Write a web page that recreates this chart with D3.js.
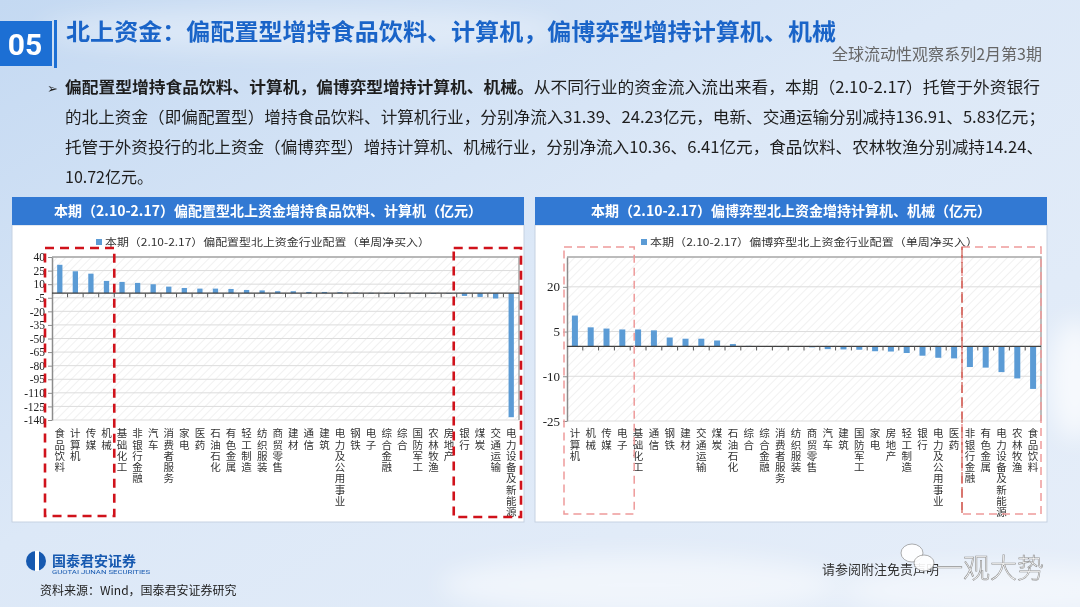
<!DOCTYPE html>
<html>
<head>
<meta charset="UTF-8">
<title>北上资金行业配置</title>
<script src="https://cdn.jsdelivr.net/npm/d3@7"></script>
<style>
  body { margin: 0; overflow: hidden; }
  svg { display: block; }
  .vlabel { writing-mode: vertical-rl; text-orientation: upright; }
</style>
</head>
<body>
<script>
var W = 1080, H = 607;
var cjk = '"Noto Sans CJK SC", "Noto Sans", sans-serif';
var serif = '"Liberation Serif", "DejaVu Serif", serif';

// 偏配置型（托管于外资银行）单周净买入，亿元
var leftCategories = ["食品饮料", "计算机", "传媒", "机械", "基础化工", "非银行金融", "汽车", "消费者服务",
    "家电", "医药", "石油石化", "有色金属", "轻工制造", "纺织服装", "商贸零售", "建材", "通信", "建筑",
    "电力及公用事业", "钢铁", "电子", "综合金融", "综合", "国防军工", "农林牧渔", "房地产", "银行", "煤炭",
    "交通运输", "电力设备及新能源"];
var leftValues = [31.39, 24.23, 21.6, 13.6, 12.5, 11.4, 9.9, 7.3, 5.8, 5.1, 5.1, 4.7, 3.6, 3.1, 2.2, 2.2,
    1.4, 1.4, 1.1, 0.7, 0.4, 0.2, 0.1, -0.1, -0.3, -0.7, -3.0, -4.1, -5.83, -136.91];
var leftTicks = [40, 25, 10, -5, -20, -35, -50, -65, -80, -95, -110, -125, -140];
var leftDomain = [-140, 40];

// 偏博弈型（托管于外资投行）单周净买入，亿元
var rightCategories = ["计算机", "机械", "传媒", "电子", "基础化工", "通信", "钢铁", "建材", "交通运输", "煤炭",
    "石油石化", "综合", "综合金融", "消费者服务", "纺织服装", "商贸零售", "汽车", "建筑", "国防军工", "家电",
    "房地产", "轻工制造", "银行", "电力及公用事业", "医药", "非银行金融", "有色金属", "电力设备及新能源",
    "农林牧渔", "食品饮料"];
var rightValues = [10.36, 6.41, 6.0, 5.7, 5.7, 5.4, 3.0, 2.6, 2.6, 2.0, 0.8, 0.2, 0.05, -0.05, -0.1, -0.3,
    -0.9, -1.0, -1.1, -1.6, -1.7, -2.2, -3.1, -3.8, -4.0, -6.9, -7.1, -8.6, -10.72, -14.24];
var rightTicks = [20, 5, -10, -25];
var rightDomain = [-25, 30];

var svg = d3.select("body").append("svg")
        .attr("width", W)
        .attr("height", H);

var defs = svg.append("defs");

var bg = defs.append("linearGradient").attr("id", "bg")
        .attr("x1", 0).attr("y1", 0).attr("x2", 1).attr("y2", 1);
bg.append("stop").attr("offset", "0%").attr("stop-color", "#c4d9f2");
bg.append("stop").attr("offset", "45%").attr("stop-color", "#dce8f7");
bg.append("stop").attr("offset", "100%").attr("stop-color", "#e6eef9");

var hatch = defs.append("pattern").attr("id", "hatch")
        .attr("width", 6).attr("height", 6)
        .attr("patternUnits", "userSpaceOnUse")
        .attr("patternTransform", "rotate(45)");
hatch.append("rect").attr("width", 6).attr("height", 6).attr("fill", "#ffffff");
hatch.append("line").attr("x1", 0).attr("y1", 0).attr("x2", 0).attr("y2", 6)
        .attr("stroke", "#ebebeb").attr("stroke-width", 1.4);

defs.append("filter").attr("id", "blur")
        .append("feGaussianBlur").attr("stdDeviation", 12);

// slide background
svg.append("rect").attr("width", W).attr("height", H).attr("fill", "url(#bg)");
var clouds = svg.append("g").attr("filter", "url(#blur)").attr("fill", "#ffffff");
clouds.append("ellipse").attr("cx", 300).attr("cy", 30).attr("rx", 260).attr("ry", 22).attr("opacity", 0.35);
clouds.append("ellipse").attr("cx", 640).attr("cy", 585).attr("rx", 200).attr("ry", 30).attr("opacity", 0.5);
clouds.append("ellipse").attr("cx", 1000).attr("cy", 590).attr("rx", 160).attr("ry", 25).attr("opacity", 0.5);
clouds.append("ellipse").attr("cx", 1075).attr("cy", 380).attr("rx", 25).attr("ry", 60).attr("opacity", 0.7);

// header
svg.append("rect").attr("x", 0).attr("y", 21).attr("width", 52).attr("height", 45).attr("fill", "#1c6fd4");
svg.append("rect").attr("x", 54).attr("y", 20).attr("width", 3).attr("height", 48).attr("fill", "#1c6fd4");
svg.append("text").attr("x", 25).attr("y", 55)
        .attr("text-anchor", "middle")
        .style("font-family", '"Roboto", sans-serif').style("font-weight", 700)
        .style("font-size", "30px").attr("fill", "#ffffff")
        .text("05");
svg.append("text").attr("x", 66).attr("y", 40)
        .attr("textLength", 770).attr("lengthAdjust", "spacingAndGlyphs")
        .style("font-family", cjk).style("font-weight", 700).style("font-size", "23px")
        .attr("fill", "#1a64c8")
        .text("北上资金：偏配置型增持食品饮料、计算机，偏博弈型增持计算机、机械");
svg.append("text").attr("x", 832).attr("y", 60)
        .attr("textLength", 210).attr("lengthAdjust", "spacingAndGlyphs")
        .style("font-family", cjk).style("font-size", "16px").attr("fill", "#666666")
        .text("全球流动性观察系列2月第3期");

// paragraph
var para = svg.append("g").style("font-family", cjk).style("font-size", "16px").attr("fill", "#1e1e1e");
para.append("text").attr("x", 47).attr("y", 93).style("font-size", "13px").text("➢");
var l1 = para.append("text").attr("x", 65).attr("y", 93)
        .attr("textLength", 975).attr("lengthAdjust", "spacingAndGlyphs");
l1.append("tspan").style("font-weight", 700).text("偏配置型增持食品饮料、计算机，偏博弈型增持计算机、机械。");
l1.append("tspan").text("从不同行业的资金流入流出来看，本期（2.10-2.17）托管于外资银行");
para.append("text").attr("x", 65).attr("y", 123)
        .attr("textLength", 980).attr("lengthAdjust", "spacingAndGlyphs")
        .text("的北上资金（即偏配置型）增持食品饮料、计算机行业，分别净流入31.39、24.23亿元，电新、交通运输分别减持136.91、5.83亿元；");
para.append("text").attr("x", 65).attr("y", 153)
        .attr("textLength", 978).attr("lengthAdjust", "spacingAndGlyphs")
        .text("托管于外资投行的北上资金（偏博弈型）增持计算机、机械行业，分别净流入10.36、6.41亿元，食品饮料、农林牧渔分别减持14.24、");
para.append("text").attr("x", 65).attr("y", 183)
        .text("10.72亿元。");

// panels
function panel(x, w, title) {
    svg.append("rect").attr("x", x).attr("y", 225).attr("width", w).attr("height", 297)
            .attr("fill", "#ffffff").attr("stroke", "#c6d2e2").attr("stroke-width", 1);
    svg.append("rect").attr("x", x).attr("y", 197).attr("width", w).attr("height", 28)
            .attr("fill", "#3279d3");
    svg.append("text").attr("x", x + w / 2).attr("y", 216)
            .attr("text-anchor", "middle")
            .style("font-family", cjk).style("font-weight", 700).style("font-size", "14px")
            .attr("fill", "#ffffff")
            .text(title);
}
panel(12, 512, "本期（2.10-2.17）偏配置型北上资金增持食品饮料、计算机（亿元）");
panel(535, 512, "本期（2.10-2.17）偏博弈型北上资金增持计算机、机械（亿元）");

function drawChart(c) {
    var g = svg.append("g");
    var x = d3.scaleBand().domain(c.categories)
            .range([c.x0, c.x1]).paddingInner(c.pad).paddingOuter(c.pad / 2);
    var y = d3.scaleLinear().domain(c.domain).range([c.y1, c.y0]);
    var step = x.step();

    g.append("rect").attr("x", c.x0).attr("y", c.y0)
            .attr("width", c.x1 - c.x0).attr("height", c.y1 - c.y0)
            .attr("fill", "url(#hatch)");

    g.selectAll(".grid").data(c.ticks).enter().append("line")
            .attr("x1", c.x0).attr("x2", c.x1)
            .attr("y1", function(d) { return y(d); })
            .attr("y2", function(d) { return y(d); })
            .attr("stroke", "#dcdcdc").attr("stroke-width", 1);

    // plot frame top and right
    g.append("path")
            .attr("d", "M" + c.x0 + "," + c.y0 + "H" + c.x1 + "V" + c.y1)
            .attr("fill", "none").attr("stroke", "#a6a6a6").attr("stroke-width", 1.5);

    g.selectAll(".bar").data(c.values).enter().append("rect")
            .attr("x", function(d, i) { return x(c.categories[i]); })
            .attr("width", x.bandwidth())
            .attr("y", function(d) { return y(Math.max(0, d)); })
            .attr("height", function(d) { return Math.max(0.6, Math.abs(y(d) - y(0))); })
            .attr("fill", "#5b9bd5");

    var yAxis = g.append("g")
            .attr("transform", "translate(" + c.x0 + ",0)")
            .call(d3.axisLeft(y).tickValues(c.ticks).tickSize(4).tickSizeOuter(0).tickPadding(3)
                .tickFormat(function(d) { return String(d); }));
    yAxis.select(".domain").attr("stroke", "#8c8c8c").attr("stroke-width", 1.5);
    yAxis.selectAll(".tick line").attr("stroke", "#8c8c8c");
    yAxis.selectAll("text")
            .style("font-family", serif).style("font-size", c.tickFont)
            .attr("fill", "#222222");

    // zero line with category ticks at boundaries
    g.append("line").attr("x1", c.x0).attr("x2", c.x1)
            .attr("y1", y(0)).attr("y2", y(0))
            .attr("stroke", "#404040").attr("stroke-width", 1.2);
    g.selectAll(".ctick").data(d3.range(1, c.categories.length)).enter().append("line")
            .attr("x1", function(i) { return c.x0 + step * i; })
            .attr("x2", function(i) { return c.x0 + step * i; })
            .attr("y1", y(0)).attr("y2", y(0) + 4)
            .attr("stroke", "#555555").attr("stroke-width", 1);

    // vertical stacked category labels
    g.selectAll(".clabel").data(c.categories).enter().append("text")
            .attr("class", "vlabel")
            .attr("x", function(d) { return x(d) + x.bandwidth() / 2; })
            .attr("y", c.labelTop)
            .style("font-family", cjk).style("font-size", "10.5px")
            .style("letter-spacing", "0.8px")
            .attr("fill", "#333333")
            .text(function(d) { return d; });

    // legend
    g.append("rect").attr("x", c.legendX).attr("y", 239).attr("width", 6).attr("height", 6)
            .attr("fill", "#5b9bd5");
    g.append("text").attr("x", c.legendX + 9).attr("y", 246)
            .attr("textLength", c.legendLen).attr("lengthAdjust", "spacingAndGlyphs")
            .style("font-family", cjk).style("font-size", "10.5px").attr("fill", "#333333")
            .text(c.legend);

    return { x: c.x0, step: step, x1: c.x1 };
}

var L = drawChart({
    categories: leftCategories, values: leftValues, ticks: leftTicks, domain: leftDomain,
    x0: 52, x1: 519, y0: 257, y1: 420, pad: 0.66, tickFont: "11.5px", labelTop: 428,
    legendX: 96, legendLen: 325,
    legend: "本期（2.10-2.17）偏配置型北上资金行业配置（单周净买入）"
});
var R = drawChart({
    categories: rightCategories, values: rightValues, ticks: rightTicks, domain: rightDomain,
    x0: 567, x1: 1041, y0: 257, y1: 421, pad: 0.62, tickFont: "13px", labelTop: 428,
    legendX: 641, legendLen: 328,
    legend: "本期（2.10-2.17）偏博弈型北上资金行业配置（单周净买入）"
});

// highlight boxes
function box(x0, x1, y0, y1, color, width, dash) {
    svg.append("rect").attr("x", x0).attr("y", y0)
            .attr("width", x1 - x0).attr("height", y1 - y0)
            .attr("fill", "none").attr("stroke", color)
            .attr("stroke-width", width).attr("stroke-dasharray", dash);
}
box(L.x - 7, L.x + L.step * 4, 248, 516, "#d0121b", 2.6, "9,6");
box(L.x + L.step * 26 - 3, L.x1 + 2, 248, 517, "#d0121b", 2.6, "9,6");
box(R.x - 3, R.x + R.step * 4 + 4, 247, 514, "#ee9a9a", 1.5, "8,5");
box(R.x + R.step * 25, R.x1, 247, 514, "#ee9a9a", 1.5, "8,5");
svg.append("line")
        .attr("x1", R.x + R.step * 25).attr("x2", R.x + R.step * 25)
        .attr("y1", 247).attr("y2", 514)
        .attr("stroke", "#c0392b").attr("stroke-width", 1).attr("stroke-dasharray", "11,4");

// footer
svg.append("circle").attr("cx", 36).attr("cy", 561).attr("r", 10).attr("fill", "#1659b0");
svg.append("rect").attr("x", 35).attr("y", 551).attr("width", 4).attr("height", 20).attr("fill", "#ffffff");
svg.append("text").attr("x", 52).attr("y", 566)
        .style("font-family", cjk).style("font-weight", 700).style("font-size", "14px")
        .attr("fill", "#1659b0")
        .text("国泰君安证券");
svg.append("text").attr("x", 52).attr("y", 574)
        .attr("textLength", 98).attr("lengthAdjust", "spacingAndGlyphs")
        .style("font-family", '"Roboto", sans-serif').style("font-size", "5px")
        .attr("fill", "#1659b0")
        .text("GUOTAI JUNAN SECURITIES");
svg.append("text").attr("x", 40).attr("y", 595)
        .style("font-family", cjk).style("font-size", "12px").attr("fill", "#222222")
        .text("资料来源：Wind，国泰君安证券研究");
svg.append("text").attr("x", 822).attr("y", 574)
        .style("font-family", cjk).style("font-size", "13px").attr("fill", "#333333")
        .text("请参阅附注免责声明");

// watermark
var wm = svg.append("g").attr("fill", "#ffffff").attr("stroke", "#8f8f8f").attr("stroke-width", 0.8);
wm.append("ellipse").attr("cx", 912).attr("cy", 553).attr("rx", 11).attr("ry", 9).attr("opacity", 0.9);
wm.append("ellipse").attr("cx", 924).attr("cy", 563).attr("rx", 10).attr("ry", 8).attr("opacity", 0.9);
wm.append("text").attr("x", 936).attr("y", 578)
        .style("font-family", cjk).style("font-weight", 300).style("font-size", "27px")
        .attr("stroke-width", 0.6)
        .text("一观大势");
</script>
</body>
</html>
